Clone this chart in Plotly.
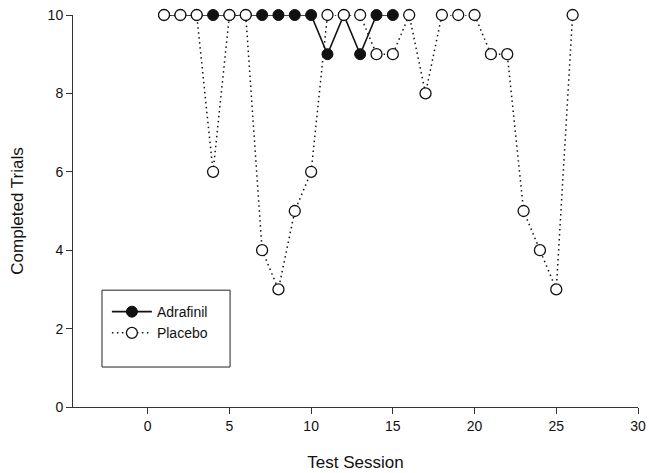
import plotly.graph_objects as go

adrafinil_sessions = list(range(1, 16))
adrafinil_trials = [10, 10, 10, 10, 10, 10, 10, 10, 10, 10, 9, 10, 9, 10, 10]

placebo_sessions = list(range(1, 27))
placebo_trials = [10, 10, 10, 6, 10, 10, 4, 3, 5, 6, 10, 10, 10, 9, 9,
                  10, 8, 10, 10, 10, 9, 9, 5, 4, 3, 10]

x_ticks = [0, 5, 10, 15, 20, 25, 30]
y_ticks = [0, 2, 4, 6, 8, 10]

FONT = "Liberation Sans, Arial, sans-serif"

fig = go.Figure()
fig.add_trace(go.Scatter(
    x=adrafinil_sessions, y=adrafinil_trials, name="Adrafinil",
    mode="lines+markers",
    line=dict(color="#111111", width=1.6),
    marker=dict(symbol="circle", size=11, color="#111111",
                line=dict(color="#111111", width=1)),
    cliponaxis=False,
))
fig.add_trace(go.Scatter(
    x=placebo_sessions, y=placebo_trials, name="Placebo",
    mode="lines+markers",
    line=dict(color="#111111", width=1.5, dash="1.5px,3.5px"),
    marker=dict(symbol="circle", size=11, color="white",
                line=dict(color="#111111", width=1.3)),
    cliponaxis=False,
))

fig.add_shape(type="rect", xref="paper", yref="paper",
              x0=0.0513, x1=0.278, y0=0.102, y1=0.298,
              line=dict(color="#222222", width=1), fillcolor="rgba(0,0,0,0)")

fig.update_layout(
    width=649, height=473,
    margin=dict(l=73, r=11, t=15, b=66, autoexpand=False),
    paper_bgcolor="white", plot_bgcolor="white",
    font=dict(family=FONT, size=14, color="#111111"),
    showlegend=True,
    legend=dict(x=0.06, y=0.283, xanchor="left", yanchor="top",
                bgcolor="rgba(0,0,0,0)", borderwidth=0,
                font=dict(family=FONT, size=14, color="#111111"),
                tracegroupgap=0, itemwidth=40),
    xaxis=dict(range=[-4.57, 30], tickvals=x_ticks, ticks="outside",
               ticklen=6, tickwidth=1, tickcolor="#333333",
               showline=True, linecolor="#333333", linewidth=1,
               showgrid=False, zeroline=False, automargin=False,
               ticklabeloverflow="allow",
               tickfont=dict(family=FONT, size=14, color="#111111"),
               title=dict(text="Test Session", standoff=23,
                          font=dict(family=FONT, size=17, color="#111111"))),
    yaxis=dict(range=[0, 10], tickvals=y_ticks, ticks="outside",
               ticklen=6, tickwidth=1, tickcolor="#333333",
               showline=True, linecolor="#333333", linewidth=1,
               showgrid=False, zeroline=False, automargin=False,
               ticklabeloverflow="allow",
               tickfont=dict(family=FONT, size=14, color="#111111"),
               title=dict(text="Completed Trials", standoff=19,
                          font=dict(family=FONT, size=17, color="#111111"))),
)

fig.write_html("out.html",
               config={"displayModeBar": False, "staticPlot": True},
               post_script="document.body.style.margin='0';document.body.style.overflow='hidden';")
